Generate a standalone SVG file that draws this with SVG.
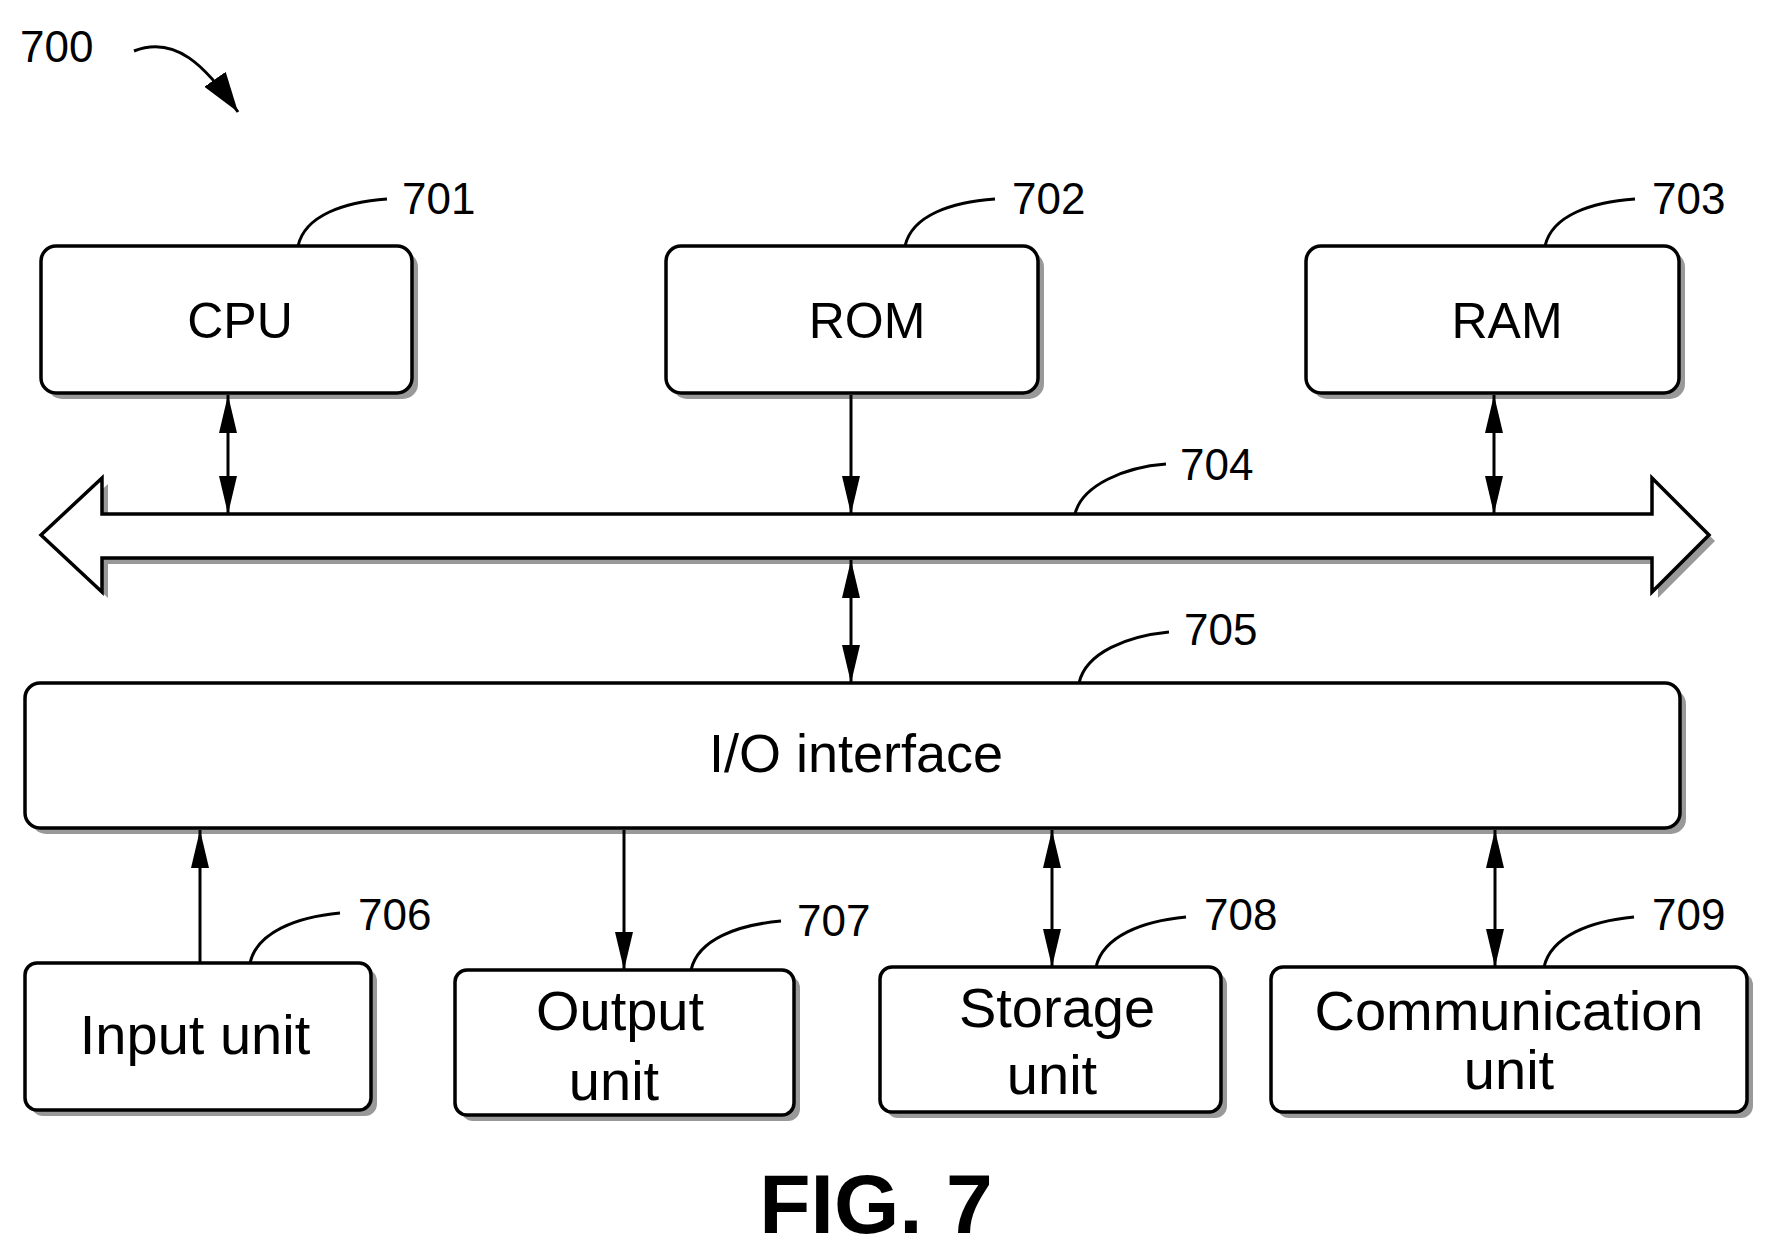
<svg xmlns="http://www.w3.org/2000/svg" width="1779" height="1252" viewBox="0 0 1779 1252">
<style>
.box{fill:#fff;stroke:#000;stroke-width:3.5}
.sh{fill:#999}
.t{font-family:"Liberation Sans",Arial,sans-serif;fill:#000;text-anchor:middle}
.lbl{font-family:"Liberation Sans",Arial,sans-serif;font-size:44px;fill:#000}
.ln{fill:none;stroke:#000;stroke-width:3}
</style>
<defs>
<marker id="ah" viewBox="0 0 10 10" refX="10" refY="5" markerWidth="38" markerHeight="18" markerUnits="userSpaceOnUse" orient="auto-start-reverse" preserveAspectRatio="none"><path d="M0,0 L10,5 L0,10 z" fill="#000"/></marker>
<marker id="ah2" viewBox="0 0 10 10" refX="10" refY="5" markerWidth="40" markerHeight="26" markerUnits="userSpaceOnUse" orient="auto" preserveAspectRatio="none"><path d="M0,0 L10,5 L0,10 z" fill="#000"/></marker>
</defs>
<rect width="1779" height="1252" fill="#fff"/>
<text class="lbl" x="20" y="62">700</text>
<path class="ln" d="M134,51 C175,35 205,65 238,112" stroke-width="4" marker-end="url(#ah2)"/>

<g id="cpu"><rect class="sh" x="47" y="252" width="371" height="147" rx="15"/><rect class="box" x="41" y="246" width="371" height="147" rx="15"/><text class="t" x="240" y="338" font-size="50">CPU</text></g>
<g id="rom"><rect class="sh" x="672" y="252" width="372" height="147" rx="15"/><rect class="box" x="666" y="246" width="372" height="147" rx="15"/><text class="t" x="867" y="338" font-size="50">ROM</text></g>
<g id="ram"><rect class="sh" x="1312" y="252" width="373" height="147" rx="15"/><rect class="box" x="1306" y="246" width="373" height="147" rx="15"/><text class="t" x="1507" y="338" font-size="50">RAM</text></g>

<g id="bus">
<path d="M47,541 L108,484 L108,520 L1658,520 L1658,484 L1715,541 L1658,598 L1658,564 L108,564 L108,598 z" fill="#999"/>
<path d="M41,535 L102,478 L102,514 L1652,514 L1652,478 L1709,535 L1652,592 L1652,558 L102,558 L102,592 z" fill="#fff" stroke="#000" stroke-width="3.5"/>
</g>

<g id="io"><rect class="sh" x="31" y="689" width="1655" height="145" rx="15"/><rect class="box" x="25" y="683" width="1655" height="145" rx="15"/><text class="t" x="856" y="772" font-size="54">I/O interface</text></g>

<g id="input"><rect class="sh" x="31" y="969" width="346" height="147" rx="12"/><rect class="box" x="25" y="963" width="346" height="147" rx="12"/><text class="t" x="195" y="1054" font-size="56">Input unit</text></g>
<g id="output"><rect class="sh" x="461" y="976" width="339" height="145" rx="12"/><rect class="box" x="455" y="970" width="339" height="145" rx="12"/><text class="t" x="620" y="1030" font-size="56">Output</text><text class="t" x="614" y="1100" font-size="56">unit</text></g>
<g id="storage"><rect class="sh" x="886" y="973" width="341" height="145" rx="12"/><rect class="box" x="880" y="967" width="341" height="145" rx="12"/><text class="t" x="1057" y="1027" font-size="56">Storage</text><text class="t" x="1052" y="1094" font-size="56">unit</text></g>
<g id="comm"><rect class="sh" x="1277" y="973" width="476" height="145" rx="12"/><rect class="box" x="1271" y="967" width="476" height="145" rx="12"/><text class="t" x="1509" y="1030" font-size="56">Communication</text><text class="t" x="1509" y="1089" font-size="56">unit</text></g>

<g id="connectors">
<line class="ln" x1="228" y1="395" x2="228" y2="514" marker-start="url(#ah)" marker-end="url(#ah)"/>
<line class="ln" x1="851" y1="395" x2="851" y2="514" marker-end="url(#ah)"/>
<line class="ln" x1="1494" y1="395" x2="1494" y2="514" marker-start="url(#ah)" marker-end="url(#ah)"/>
<line class="ln" x1="851" y1="560" x2="851" y2="683" marker-start="url(#ah)" marker-end="url(#ah)"/>
<line class="ln" x1="200" y1="963" x2="200" y2="830" marker-end="url(#ah)"/>
<line class="ln" x1="624" y1="830" x2="624" y2="970" marker-end="url(#ah)"/>
<line class="ln" x1="1052" y1="830" x2="1052" y2="967" marker-start="url(#ah)" marker-end="url(#ah)"/>
<line class="ln" x1="1495" y1="830" x2="1495" y2="967" marker-start="url(#ah)" marker-end="url(#ah)"/>
<path class="ln" d="M298,246 C305,215 345,202 387,199"/>
<path class="ln" d="M905,246 C912,215 952,202 995,199"/>
<path class="ln" d="M1545,246 C1552,215 1592,202 1635,199"/>
<path class="ln" d="M1075,514 C1082,485 1125,467 1166,464"/>
<path class="ln" d="M1079,683 C1086,652 1128,636 1169,632"/>
<path class="ln" d="M250,963 C257,932 297,917 340,913"/>
<path class="ln" d="M691,970 C698,939 738,925 781,921"/>
<path class="ln" d="M1096,967 C1103,936 1143,921 1186,917"/>
<path class="ln" d="M1544,967 C1551,936 1591,921 1634,917"/>
</g>
<text class="lbl" x="402" y="214">701</text>
<text class="lbl" x="1012" y="214">702</text>
<text class="lbl" x="1652" y="214">703</text>
<text class="lbl" x="1180" y="480">704</text>
<text class="lbl" x="1184" y="645">705</text>
<text class="lbl" x="358" y="930">706</text>
<text class="lbl" x="797" y="936">707</text>
<text class="lbl" x="1204" y="930">708</text>
<text class="lbl" x="1652" y="930">709</text>
<text class="t" x="876" y="1233" font-size="84" font-weight="bold">FIG. 7</text>
</svg>
